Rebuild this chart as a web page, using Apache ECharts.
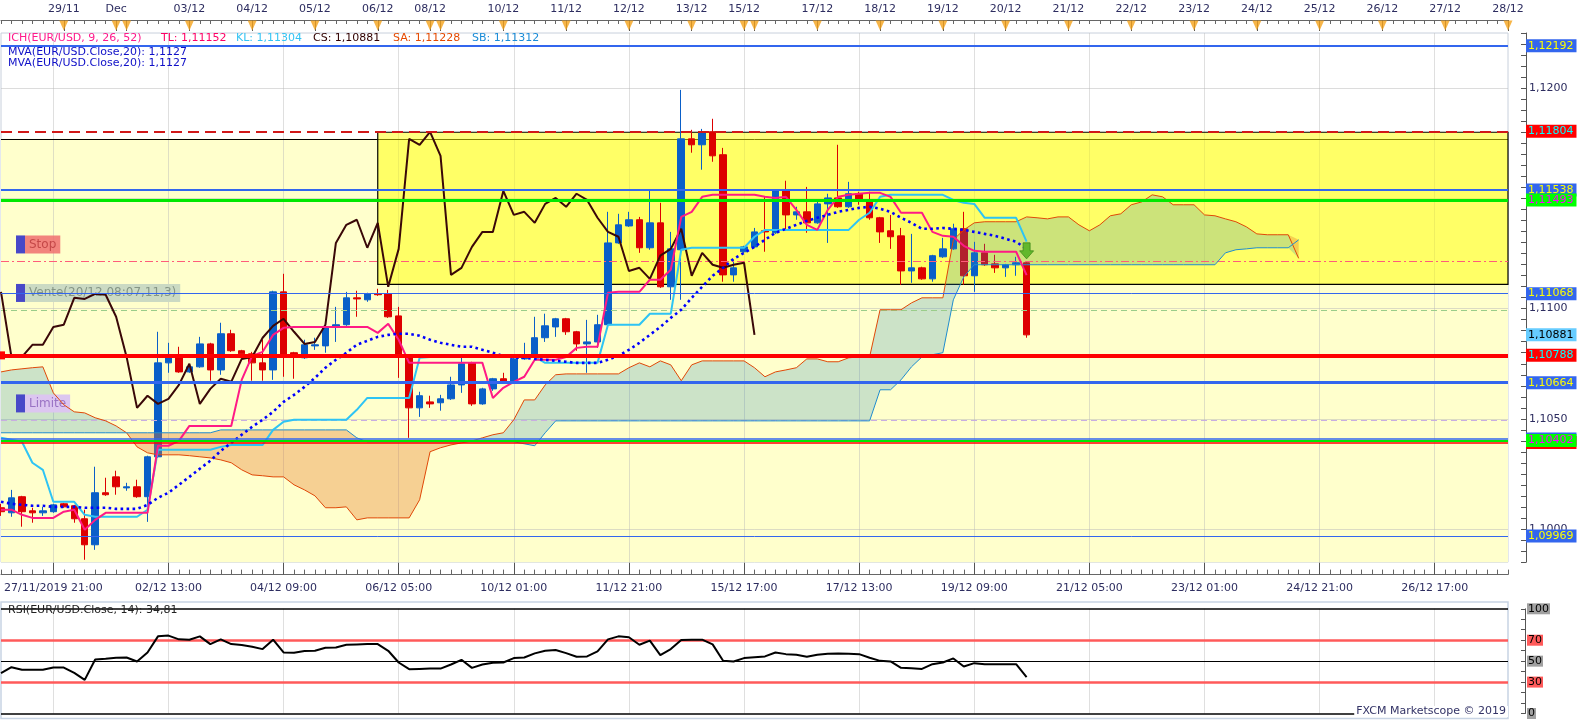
<!DOCTYPE html>
<html><head><meta charset="utf-8">
<script src="https://cdn.jsdelivr.net/npm/echarts@6/dist/echarts.min.js"></script>
<style>html,body{margin:0;padding:0;background:#fff}#c{width:1583px;height:720px}</style>
</head><body><div id="c"></div>
<script>
// ---------------- DATA ----------------
const opens = [
1.10097,1.10074,1.10147,1.10083,1.10074,1.10079,1.10115,1.10106,1.10047,1.09929,
1.10165,1.10237,1.10187,1.10192,1.10147,1.10328,1.10754,1.10786,1.10713,1.10736,
1.10840,1.10722,1.10886,1.10809,1.10795,1.10754,1.10722,1.11076,1.10800,1.10777,
1.10831,1.10831,1.10917,1.10927,1.11049,1.11040,1.11067,1.11067,1.10967,1.10781,
1.10550,1.10577,1.10573,1.10591,1.10654,1.10754,1.10568,1.10636,1.10682,1.10668,
1.10772,1.10791,1.10868,1.10917,1.10954,1.10895,1.10840,1.10849,1.10927,1.11298,
1.11375,1.11403,1.11276,1.11389,1.11099,1.11267,1.11770,1.11743,1.11802,1.11698,
1.11153,1.11258,1.11280,1.11353,1.11344,1.11534,1.11425,1.11439,1.11389,1.11475,
1.11502,1.11462,1.11521,1.11493,1.11412,1.11353,1.11330,1.11171,1.11185,1.11135,
1.11235,1.11271,1.11362,1.11149,1.11253,1.11203,1.11185,1.11199,1.11208];
const closes = [
1.10079,1.10142,1.10079,1.10074,1.10083,1.10110,1.10101,1.10047,1.09929,1.10165,
1.10156,1.10192,1.10192,1.10147,1.10328,1.10754,1.10786,1.10713,1.10736,1.10840,
1.10722,1.10886,1.10809,1.10795,1.10754,1.10722,1.11076,1.10781,1.10781,1.10836,
1.10836,1.10917,1.10927,1.11049,1.11044,1.11067,1.11063,1.10963,1.10781,1.10550,
1.10605,1.10568,1.10591,1.10654,1.10750,1.10568,1.10636,1.10682,1.10668,1.10772,
1.10781,1.10868,1.10922,1.10954,1.10895,1.10840,1.10849,1.10927,1.11298,1.11380,
1.11403,1.11276,1.11389,1.11099,1.11271,1.11770,1.11743,1.11802,1.11693,1.11153,
1.11185,1.11280,1.11348,1.11348,1.11534,1.11425,1.11439,1.11389,1.11475,1.11502,
1.11462,1.11521,1.11493,1.11412,1.11348,1.11326,1.11171,1.11185,1.11135,1.11240,
1.11271,1.11362,1.11149,1.11253,1.11199,1.11185,1.11199,1.11208,1.10881];
const lows = [
1.10060,1.10056,1.10011,1.10029,1.10060,1.10074,1.10097,1.10029,1.09861,1.09906,
1.10151,1.10156,1.10174,1.10142,1.10033,1.10323,1.10709,1.10709,1.10709,1.10732,
1.10673,1.10700,1.10804,1.10777,1.10673,1.10673,1.10677,1.10691,1.10682,1.10772,
1.10813,1.10800,1.10849,1.10922,1.10963,1.11031,1.11058,1.10958,1.10686,1.10414,
1.10509,1.10550,1.10537,1.10586,1.10618,1.10559,1.10564,1.10627,1.10664,1.10659,
1.10768,1.10786,1.10849,1.10872,1.10881,1.10809,1.10709,1.10822,1.10922,1.11294,
1.11371,1.11253,1.11267,1.11094,1.11040,1.11040,1.11707,1.11630,1.11666,1.11122,
1.11122,1.11253,1.11276,1.11258,1.11339,1.11357,1.11403,1.11344,1.11385,1.11298,
1.11457,1.11457,1.11471,1.11403,1.11298,1.11271,1.11108,1.11117,1.11131,1.11122,
1.11230,1.11267,1.11108,1.11076,1.11194,1.11162,1.11144,1.11149,1.10868];
const highs = [
1.10115,1.10178,1.10151,1.10097,1.10101,1.10115,1.10119,1.10110,1.10088,1.10283,
1.10233,1.10265,1.10210,1.10224,1.10333,1.10895,1.10845,1.10827,1.10741,1.10872,
1.10845,1.10936,1.10904,1.10813,1.10804,1.10859,1.11081,1.11158,1.10804,1.10859,
1.10868,1.10922,1.11008,1.11076,1.11081,1.11072,1.11090,1.11085,1.11008,1.10786,
1.10623,1.10605,1.10609,1.10691,1.10781,1.10759,1.10641,1.10686,1.10709,1.10777,
1.10845,1.10963,1.10977,1.10958,1.10958,1.10899,1.10949,1.10972,1.11439,1.11430,
1.11439,1.11416,1.11534,1.11480,1.11348,1.11992,1.11811,1.11815,1.11861,1.11729,
1.11221,1.11285,1.11366,1.11507,1.11539,1.11580,1.11462,1.11552,1.11493,1.11521,
1.11743,1.11575,1.11530,1.11530,1.11416,1.11425,1.11366,1.11339,1.11190,1.11244,
1.11321,1.11385,1.11439,1.11303,1.11294,1.11244,1.11203,1.11235,1.11212];

const tenkan = [
1.10088,1.10088,1.10065,1.10051,1.10051,1.10051,1.10079,1.10088,1.09997,1.10042,
1.10074,1.10074,1.10074,1.10074,1.10074,1.10378,1.10378,1.10400,1.10468,1.10468,
1.10468,1.10468,1.10468,1.10677,1.10786,1.10804,1.10881,1.10913,1.10917,1.10917,
1.10917,1.10917,1.10917,1.10917,1.10917,1.10917,1.10890,1.10931,1.10859,1.10754,
1.10754,1.10754,1.10754,1.10754,1.10754,1.10754,1.10754,1.10595,1.10641,1.10668,
1.10691,1.10768,1.10768,1.10768,1.10781,1.10822,1.10827,1.10827,1.11072,1.11076,
1.11076,1.11076,1.11131,1.11131,1.11176,1.11416,1.11439,1.11507,1.11516,1.11516,
1.11516,1.11516,1.11516,1.11507,1.11502,1.11507,1.11448,1.11380,1.11357,1.11448,
1.11507,1.11516,1.11521,1.11525,1.11525,1.11507,1.11435,1.11435,1.11435,1.11348,
1.11330,1.11326,1.11285,1.11262,1.11258,1.11258,1.11258,1.11258,1.11152];
const kijun = [
1.10414,1.10405,1.10396,1.10301,1.10269,1.10124,1.10124,1.10124,1.10065,1.10056,
1.10056,1.10056,1.10056,1.10056,1.10088,1.10360,1.10360,1.10360,1.10360,1.10360,
1.10360,1.10373,1.10382,1.10382,1.10382,1.10382,1.10450,1.10487,1.10496,1.10496,
1.10496,1.10496,1.10496,1.10496,1.10541,1.10595,1.10595,1.10595,1.10595,1.10595,
1.10777,1.10781,1.10781,1.10781,1.10781,1.10781,1.10781,1.10781,1.10781,1.10781,
1.10781,1.10781,1.10754,1.10754,1.10754,1.10754,1.10754,1.10754,1.10927,1.10927,
1.10927,1.10927,1.10977,1.10977,1.10977,1.11267,1.11276,1.11276,1.11276,1.11276,
1.11276,1.11276,1.11326,1.11357,1.11357,1.11357,1.11357,1.11357,1.11357,1.11357,
1.11357,1.11357,1.11403,1.11435,1.11507,1.11516,1.11516,1.11516,1.11516,1.11516,
1.11516,1.11493,1.11480,1.11475,1.11412,1.11412,1.11412,1.11412,1.11304];
const chikou = [
1.11076,1.10781,1.10781,1.10836,1.10836,1.10917,1.10927,1.11049,1.11044,1.11067,
1.11063,1.10963,1.10781,1.10550,1.10605,1.10568,1.10591,1.10654,1.10750,1.10568,
1.10636,1.10682,1.10668,1.10772,1.10781,1.10868,1.10922,1.10954,1.10895,1.10840,
1.10849,1.10927,1.11298,1.11380,1.11403,1.11276,1.11389,1.11099,1.11271,1.11770,
1.11743,1.11802,1.11693,1.11153,1.11185,1.11280,1.11348,1.11348,1.11534,1.11425,
1.11439,1.11389,1.11475,1.11502,1.11462,1.11521,1.11493,1.11412,1.11348,1.11326,
1.11171,1.11185,1.11135,1.11240,1.11271,1.11362,1.11149,1.11253,1.11199,1.11185,
1.11199,1.11208,1.10881];
const senkouA = [
1.10713,1.10722,1.10727,1.10732,1.10736,1.10618,1.10564,1.10532,1.10527,1.10505,
1.10491,1.10468,1.10437,1.10373,1.10346,1.10337,1.10337,1.10337,1.10333,1.10328,
1.10323,1.10314,1.10301,1.10269,1.10246,1.10242,1.10237,1.10237,1.10201,1.10178,
1.10151,1.10097,1.10097,1.10101,1.10042,1.10051,1.10051,1.10051,1.10051,1.10051,
1.10133,1.10351,1.10369,1.10382,1.10391,1.10400,1.10414,1.10428,1.10437,1.10496,
1.10586,1.10586,1.10654,1.10700,1.10704,1.10704,1.10704,1.10704,1.10704,1.10704,
1.10732,1.10754,1.10736,1.10763,1.10745,1.10673,1.10745,1.10763,1.10763,1.10763,
1.10763,1.10763,1.10732,1.10691,1.10713,1.10722,1.10732,1.10772,1.10772,1.10759,
1.10759,1.10777,1.10781,1.10781,1.10995,1.10995,1.10995,1.11026,1.11049,1.11049,
1.11049,1.11312,1.11357,1.11389,1.11394,1.11394,1.11394,1.11394,1.11416,1.11412,
1.11407,1.11416,1.11416,1.11380,1.11353,1.11380,1.11421,1.11430,1.11471,1.11484,
1.11516,1.11507,1.11471,1.11471,1.11471,1.11425,1.11421,1.11407,1.11394,1.11371,
1.11339,1.11335,1.11335,1.11335,1.11228];
const senkouB = [
1.10437,1.10437,1.10437,1.10437,1.10437,1.10437,1.10437,1.10437,1.10437,1.10437,
1.10437,1.10437,1.10437,1.10437,1.10437,1.10437,1.10437,1.10437,1.10437,1.10437,
1.10437,1.10450,1.10450,1.10450,1.10450,1.10450,1.10450,1.10450,1.10450,1.10450,
1.10450,1.10450,1.10450,1.10450,1.10414,1.10396,1.10396,1.10396,1.10396,1.10396,
1.10396,1.10396,1.10396,1.10396,1.10396,1.10396,1.10396,1.10396,1.10396,1.10396,
1.10387,1.10378,1.10437,1.10491,1.10491,1.10491,1.10491,1.10491,1.10491,1.10491,
1.10491,1.10491,1.10491,1.10491,1.10491,1.10491,1.10491,1.10491,1.10491,1.10491,
1.10491,1.10491,1.10491,1.10491,1.10491,1.10491,1.10491,1.10491,1.10491,1.10491,
1.10491,1.10491,1.10491,1.10491,1.10632,1.10632,1.10677,1.10736,1.10781,1.10791,
1.10800,1.11040,1.11144,1.11199,1.11199,1.11199,1.11199,1.11199,1.11199,1.11199,
1.11199,1.11199,1.11199,1.11199,1.11199,1.11199,1.11199,1.11199,1.11199,1.11199,
1.11199,1.11199,1.11199,1.11199,1.11199,1.11199,1.11199,1.11253,1.11267,1.11271,
1.11276,1.11276,1.11276,1.11276,1.11312];
const mva20 = [
1.10124,1.10115,1.10110,1.10106,1.10106,1.10101,1.10101,1.10101,1.10097,1.10097,
1.10097,1.10092,1.10092,1.10092,1.10110,1.10142,1.10165,1.10201,1.10237,1.10274,
1.10310,1.10355,1.10391,1.10428,1.10464,1.10496,1.10532,1.10577,1.10609,1.10645,
1.10686,1.10732,1.10768,1.10800,1.10836,1.10854,1.10872,1.10881,1.10886,1.10886,
1.10877,1.10859,1.10845,1.10836,1.10827,1.10827,1.10813,1.10800,1.10786,1.10777,
1.10777,1.10772,1.10768,1.10763,1.10759,1.10754,1.10754,1.10754,1.10768,1.10786,
1.10813,1.10845,1.10881,1.10917,1.10958,1.10995,1.11049,1.11099,1.11149,1.11185,
1.11226,1.11253,1.11280,1.11312,1.11344,1.11362,1.11380,1.11398,1.11412,1.11425,
1.11439,1.11448,1.11457,1.11462,1.11453,1.11439,1.11412,1.11389,1.11362,1.11362,
1.11366,1.11362,1.11357,1.11348,1.11339,1.11330,1.11317,1.11303,1.11271];
const rsi = [
38.5,44.2,41.7,41.7,41.7,43.9,43.9,38.8,32.1,51.6,
52.2,53.2,53.5,49.7,58.3,73.7,74.4,70.8,70.5,73.7,
66.3,70.8,66.3,65.4,63.8,61.5,70.5,58.3,58.0,59.6,
59.9,62.8,63.1,65.7,66.0,66.3,66.3,59.9,48.7,42.3,
42.6,42.9,42.9,46.8,51.3,43.6,46.8,48.4,48.7,52.9,
53.5,57.4,59.9,60.6,57.7,54.2,54.5,59.3,70.8,73.7,
72.8,65.7,69.6,55.8,61.5,70.2,70.5,70.5,66.0,50.3,
49.7,52.9,53.8,54.5,58.3,56.7,56.1,54.2,56.1,57.1,
57.4,57.1,56.7,53.2,50.3,49.7,43.6,43.3,42.6,47.1,
48.7,52.6,44.9,48.1,47.1,47.1,47.1,47.1,34.81];

// horizontal price levels (right-side tags)
const levelValues = [1.12192, 1.11804, 1.11538, 1.11493, 1.11068, 1.10881, 1.10788, 1.10664, 1.10409, 1.10393, 1.10402, 1.09969];
const orderLevels = {stop: 1.11214, entry: 1.10994, limit: 1.10493};
const zoneTop = 1.11770;             // pale zone top
const boxLevels = [1.11800, 1.11110]; // yellow box top / bottom
const boxStartIndex = 36;
const priceGrid = [1.1000, 1.1050, 1.1100, 1.1150, 1.1200];
const rsiLevels = [100, 70, 50, 30, 0];
const sellSignal = {index: 98, price: 1.11262};
const priceMin = 1.0985, priceMax = 1.1225;
const legendItems = [
  {text:'ICH(EUR/USD, 9, 26, 52)', color:'#ff1a8c', left:8},
  {text:'TL: 1,11152', color:'#ff0066', left:161},
  {text:'KL: 1,11304', color:'#33c4f4', left:236},
  {text:'CS: 1,10881', color:'#300000', left:313},
  {text:'SA: 1,11228', color:'#e64a00', left:393},
  {text:'SB: 1,11312', color:'#1a8cd8', left:472}
];

// categories: 4-hour candles from 27/11/2019 21:00 (weekend gap in history, continuous future)
const N_CAT = 145, N_HIST = 99;
function pad(n){return (n<10?'0':'')+n;}
const categories = (function(){
  const H = 3600000, out = [];
  let t = Date.UTC(2019,10,27,21);
  for (let i=0;i<N_CAT;i++){
    const d = new Date(t);
    out.push(pad(d.getUTCDate())+'/'+pad(d.getUTCMonth()+1)+'/'+d.getUTCFullYear()+' '+pad(d.getUTCHours())+':00');
    let n = t + 4*H;
    const nd = new Date(n);
    if (i < N_HIST-1 && nd.getUTCDay()===5 && nd.getUTCHours()>13) n = t + 52*H;
    t = n;
  }
  return out;
})();

// ---------------- helpers ----------------
const FONT = 'DejaVu Sans';
const fmt5 = v => v.toFixed(5).replace('.', ',');
const dayLabel = {};
const dayTicks = [];
categories.forEach((s,i)=>{
  if (i===0) return;
  const d=+s.slice(0,2), m=+s.slice(3,5), y=+s.slice(6,10), h=+s.slice(11,13);
  const dt = new Date(Date.UTC(y,m-1,d,h));
  let lab = null;
  if (h===21) lab = new Date(dt.getTime()+4*3600000);
  else if (i < N_HIST && dt.getUTCDay()===0 && h===17) lab = dt;
  if (lab){ dayTicks.push(i); const dd = lab.getUTCDate(); dayLabel[i] = dd===1 ? 'Dec' : pad(dd)+'/'+pad(lab.getUTCMonth()+1); }
});
const daySet = new Set(dayTicks);
const isDay = i => daySet.has(i);
const showDay = i => daySet.has(i) && !daySet.has(i-1);
const isMajor = i => i>=5 && (i-5)%11===0;
const shortCat = s => s.slice(0,5)+' '+s.slice(11);

const candleData = opens.map((o,i)=>[o, closes[i], lows[i], highs[i]]);
const cloudBase = senkouA.map((a,i)=>Math.min(a, senkouB[i]));
const cloudBull = senkouA.map((a,i)=> a>senkouB[i] ? +(a-senkouB[i]).toFixed(6) : 0);
const cloudBear = senkouA.map((a,i)=> senkouB[i]>a ? +(senkouB[i]-a).toFixed(6) : 0);

const BLUE='#3366ee', RED='#ff0000', GREEN='#00e800';
const levelStyles = [
  {line:BLUE, w:2, bg:BLUE, fg:'#ffff00'},
  {line:'#d01818', w:2, type:[11,6], bg:RED, fg:'#00ffff'},
  {line:BLUE, w:2, bg:BLUE, fg:'#ffff00'},
  {line:GREEN, w:3, bg:'#00ff00', fg:'#ff00ff'},
  {line:BLUE, w:1, bg:BLUE, fg:'#ffff00'},
  {line:'rgba(0,0,0,0)', w:1, bg:'#66ccff', fg:'#000000'},
  {line:RED, w:4, bg:RED, fg:'#00ffff', sym:true},
  {line:BLUE, w:3, bg:BLUE, fg:'#ffff00'},
  {line:BLUE, w:1.5, bg:BLUE, fg:'#ffff00'},
  {line:RED, w:1.5, bg:RED, fg:'#00ffff'},
  {line:GREEN, w:2, bg:'#00ff00', fg:'#ff00ff'},
  {line:BLUE, w:1, bg:BLUE, fg:'#ffff00'}
];
const levelLines = levelValues.map((v,i)=>{
  const s = levelStyles[i];
  return {
    yAxis: v,
    symbol: s.sym ? ['rect','rect'] : 'none', symbolSize: 8,
    lineStyle: {color:s.line, width:s.w, type:s.type||'solid'},
    label: {show:true, position:'end', distance:18, formatter: fmt5(i===8||i===9?levelValues[10]:v),
      backgroundColor:s.bg, color:s.fg, fontSize:11, fontFamily:FONT, padding:[1,3,0,2], lineHeight:12}
  };
});

function tagLabel(text, bg, fg){
  return {show:true, position:'insideStartTop', distance:[15,8],
    formatter:'{s| }{t|'+text+'}',
    rich:{ s:{width:9, height:18, backgroundColor:'#4848c8'},
           t:{backgroundColor:bg, color:fg, fontSize:12, fontFamily:FONT, height:18, lineHeight:18, padding:[0,4,0,4]} }};
}
const orderLines = [
  {yAxis: orderLevels.stop, lineStyle:{color:'#ff5c7a', width:1, type:[8,3,2,3]}, label: tagLabel('Stop','rgba(240,110,110,0.85)','#c44848')},
  {yAxis: orderLevels.entry, lineStyle:{color:'#9acd8a', width:1, type:[6,4]}, label: tagLabel('Vente(20/12 08:07,11,3)','#cbdac3','#859585')},
  {yAxis: orderLevels.limit, lineStyle:{color:'#c8aee0', width:1, type:[6,4]}, label: tagLabel('Limite','#dcc6f0','#9a72c4')}
];

const rsiStyles = [
  {c:'#000', w:1.5, bg:'#a0a0a0'}, {c:'#ff5a5a', w:2.5, bg:'#ff5a5a'}, {c:'#000', w:1.2, bg:'#a0a0a0'},
  {c:'#ff5a5a', w:2.5, bg:'#ff5a5a'}, {c:'#000', w:1.5, bg:'#a0a0a0'}
];
const rsiLines = rsiLevels.map((v,i)=>({yAxis:v, lineStyle:{color:rsiStyles[i].c, width:rsiStyles[i].w, type:'solid'},
  label:{show:true, position:'end', distance:19, formatter:String(v), backgroundColor:rsiStyles[i].bg, color:'#000', fontSize:11, fontFamily:FONT, padding:[0,1,0,1], lineHeight:11}}));

// ---------------- option ----------------
const L=1, W=1507;
const G = o => Object.assign({left:L, width:W, outerBoundsMode:'none', containLabel:false}, o);
const hiddenY = g => ({gridIndex:g, type:'value', min:0, max:1, show:false});
const catBase = g => ({gridIndex:g, type:'category', data:categories, boundaryGap:false,
  axisLine:{show:false, onZero:false}, axisTick:{show:false}, axisLabel:{show:false}, splitLine:{show:false}});
const axisTxt = {color:'#2d2d60', fontSize:11, fontFamily:FONT};
const plainTitle = (text, left, top, color) => ({left, top, padding:0, text, textStyle:{fontSize:11, fontFamily:FONT, fontWeight:'normal', color}});

const option = {
  animation:false,
  backgroundColor:'#ffffff',
  title: legendItems.map(it=>plainTitle(it.text, it.left, 33, it.color)).concat([
    plainTitle('MVA(EUR/USD.Close,20): 1,1127', 8, 46.5, '#1010c8'),
    plainTitle('MVA(EUR/USD.Close,20): 1,1127', 8, 57.5, '#1010c8'),
    plainTitle('RSI(EUR/USD.Close, 14): 34,81', 8, 605, '#222'),
    {right:75, top:706, padding:[0,2,0,2], backgroundColor:'#ffffff', text:'FXCM Marketscope © 2019', textStyle:{fontSize:11, fontFamily:FONT, fontWeight:'normal', color:'#333366'}}
  ]),
  grid:[
    G({top:20, height:12}),
    G({top:20, height:12}),
    G({top:33, height:529.2, show:true, borderColor:'#c8d0dc', borderWidth:1, backgroundColor:'#ffffff'}),
    G({top:562.2, height:12.4}),
    G({top:562.2, height:12.4}),
    G({top:608.8, height:104.7}),
    G({top:602, height:116.5, show:true, borderColor:'#c8d4e4', borderWidth:1.5})
  ],
  xAxis:[
    Object.assign(catBase(0), {position:'top', axisLine:{show:true, onZero:false, lineStyle:{color:'#666', width:1}},
      axisTick:{show:true, inside:true, length:4, interval:0, lineStyle:{color:'#666'}}}),
    Object.assign(catBase(1), {position:'top',
      axisTick:{show:true, inside:true, length:11, interval:(i)=>isDay(i), lineStyle:{color:'#555'}},
      axisLabel:Object.assign({show:true, margin:5, interval:(i)=>showDay(i), formatter:(v,i)=>dayLabel[i]||''}, axisTxt)}),
    Object.assign(catBase(2), {z:2, splitLine:{show:true, interval:(i)=>isMajor(i), lineStyle:{color:'rgba(185,185,185,0.45)', width:1}}}),
    Object.assign(catBase(3), {position:'bottom', axisLine:{show:true, onZero:false, lineStyle:{color:'#666', width:1}},
      axisTick:{show:true, inside:true, length:5, interval:0, lineStyle:{color:'#666'}}}),
    Object.assign(catBase(4), {position:'bottom',
      axisTick:{show:true, inside:true, length:12, interval:(i)=>isMajor(i), lineStyle:{color:'#555'}},
      axisLabel:Object.assign({show:true, margin:8, interval:(i)=>isMajor(i), formatter:(v,i)=> i===5 ? categories[0] : shortCat(v)}, axisTxt)}),
    Object.assign(catBase(5), {splitLine:{show:true, interval:(i)=>isMajor(i), lineStyle:{color:'rgba(185,185,185,0.45)', width:1}}}),
    Object.assign(catBase(6), {show:false})
  ],
  yAxis:[
    hiddenY(0), hiddenY(1),
    {gridIndex:2, type:'value', position:'right', offset:18, min:priceMin, max:priceMax, interval:0.0005,
      axisLine:{show:true, lineStyle:{color:'#555'}}, axisTick:{show:true, inside:true, length:5, lineStyle:{color:'#555'}},
      axisLabel:Object.assign({margin:3, formatter:(v)=>{const k=v*200; return Math.abs(k-Math.round(k))<1e-6 ? v.toFixed(4).replace('.',',') : '';}}, axisTxt),
      splitLine:{show:false}},
    hiddenY(3), hiddenY(4),
    {gridIndex:5, type:'value', position:'right', offset:17, min:0, max:100, interval:10,
      axisLine:{show:true, lineStyle:{color:'#555'}}, axisTick:{show:true, inside:true, length:4, lineStyle:{color:'#555'}},
      axisLabel:{show:false}, splitLine:{show:false}},
    hiddenY(6)
  ],
  series:[
    {type:'scatter', xAxisIndex:0, yAxisIndex:0, symbol:'triangle', symbolRotate:180, symbolSize:[9,10],
     itemStyle:{color:'#f5a31a'}, data: dayTicks.map(i=>[i,0.55]), z:3, silent:true},
    {type:'candlestick', name:'EUR/USD', xAxisIndex:2, yAxisIndex:2, data:candleData, barWidth:7, z:4,
     itemStyle:{color:'#0a5fc8', color0:'#dd0000', borderColor:'#0a5fc8', borderColor0:'#dd0000', borderWidth:1},
     markPoint:{silent:true, z:7, data:[{coord:[categories[sellSignal.index], sellSignal.price],
        symbol:'path://M3,0L9,0L9,7L12,7L6,14L0,7L3,7Z', symbolSize:[14,16],
        itemStyle:{color:'#62b82c', borderColor:'#3d8a18', borderWidth:0.8}, label:{show:false}}]}},
    {type:'line', xAxisIndex:2, yAxisIndex:2, stack:'cloud', data:cloudBase, symbol:'none', lineStyle:{opacity:0}, silent:true, z:5},
    {type:'line', xAxisIndex:2, yAxisIndex:2, stack:'cloud', data:cloudBull, symbol:'none', lineStyle:{opacity:0}, silent:true, z:5,
     areaStyle:{color:'rgba(40,140,190,0.24)', opacity:1}},
    {type:'line', xAxisIndex:2, yAxisIndex:2, stack:'cloud', data:cloudBear, symbol:'none', lineStyle:{opacity:0}, silent:true, z:5,
     areaStyle:{color:'rgba(230,120,40,0.35)', opacity:1}},
    {type:'line', name:'SA', xAxisIndex:2, yAxisIndex:2, data:senkouA, symbol:'none', lineStyle:{color:'#e04808', width:1}, z:6, silent:true,
     markLine:{silent:true, symbol:'none', precision:5, z:2, label:{show:false}, data:[{yAxis:zoneTop, lineStyle:{color:'#000', width:1, type:'solid'}}]}},
    {type:'line', name:'SB', xAxisIndex:2, yAxisIndex:2, data:senkouB, symbol:'none', lineStyle:{color:'#1f8ccf', width:1}, z:6, silent:true,
     markArea:{silent:true, z:3, itemStyle:{color:'rgba(255,255,0,0.5)', borderColor:'#000', borderWidth:1.2},
       data:[[{xAxis:categories[boxStartIndex], yAxis:boxLevels[0]}, {xAxis:categories[N_CAT-1], yAxis:boxLevels[1]}]]}},
    {type:'line', name:'CS', xAxisIndex:2, yAxisIndex:2, data:chikou, symbol:'none', lineStyle:{color:'#3a0808', width:2}, z:6, silent:true,
     markArea:{silent:true, z:1, itemStyle:{color:'#ffffcc'}, data:[[{yAxis:zoneTop},{yAxis:priceMin}]]}},
    {type:'line', name:'KL', xAxisIndex:2, yAxisIndex:2, data:kijun, symbol:'none', lineStyle:{color:'#2ec4f4', width:2}, z:6, silent:true,
     markLine:{silent:true, symbol:'none', precision:5, z:2, label:{show:false}, lineStyle:{color:'rgba(185,185,185,0.5)', width:1, type:'solid'},
       data: priceGrid.map(v=>({yAxis:v}))}},
    {type:'line', name:'TL', xAxisIndex:2, yAxisIndex:2, data:tenkan, symbol:'none', lineStyle:{color:'#ff1a85', width:2}, z:6, silent:true,
     markLine:{silent:true, symbol:'none', precision:5, z:6, data: orderLines}},
    {type:'line', name:'MVA', xAxisIndex:2, yAxisIndex:2, data:mva20, symbol:'none', lineStyle:{color:'#0000ff', width:2.6, type:[2.6,3.4]}, z:6, silent:true, clip:false,
     markLine:{silent:true, symbol:'none', precision:5, z:7, data: levelLines}},
    {type:'line', name:'RSI', xAxisIndex:5, yAxisIndex:5, data:rsi, symbol:'none', lineStyle:{color:'#000', width:2}, z:6, silent:true, clip:false,
     markLine:{silent:true, symbol:'none', precision:2, z:3, data: rsiLines}}
  ]
};
const chart = echarts.init(document.getElementById('c'), null, {renderer:'canvas'});
chart.setOption(option);
</script></body></html>
